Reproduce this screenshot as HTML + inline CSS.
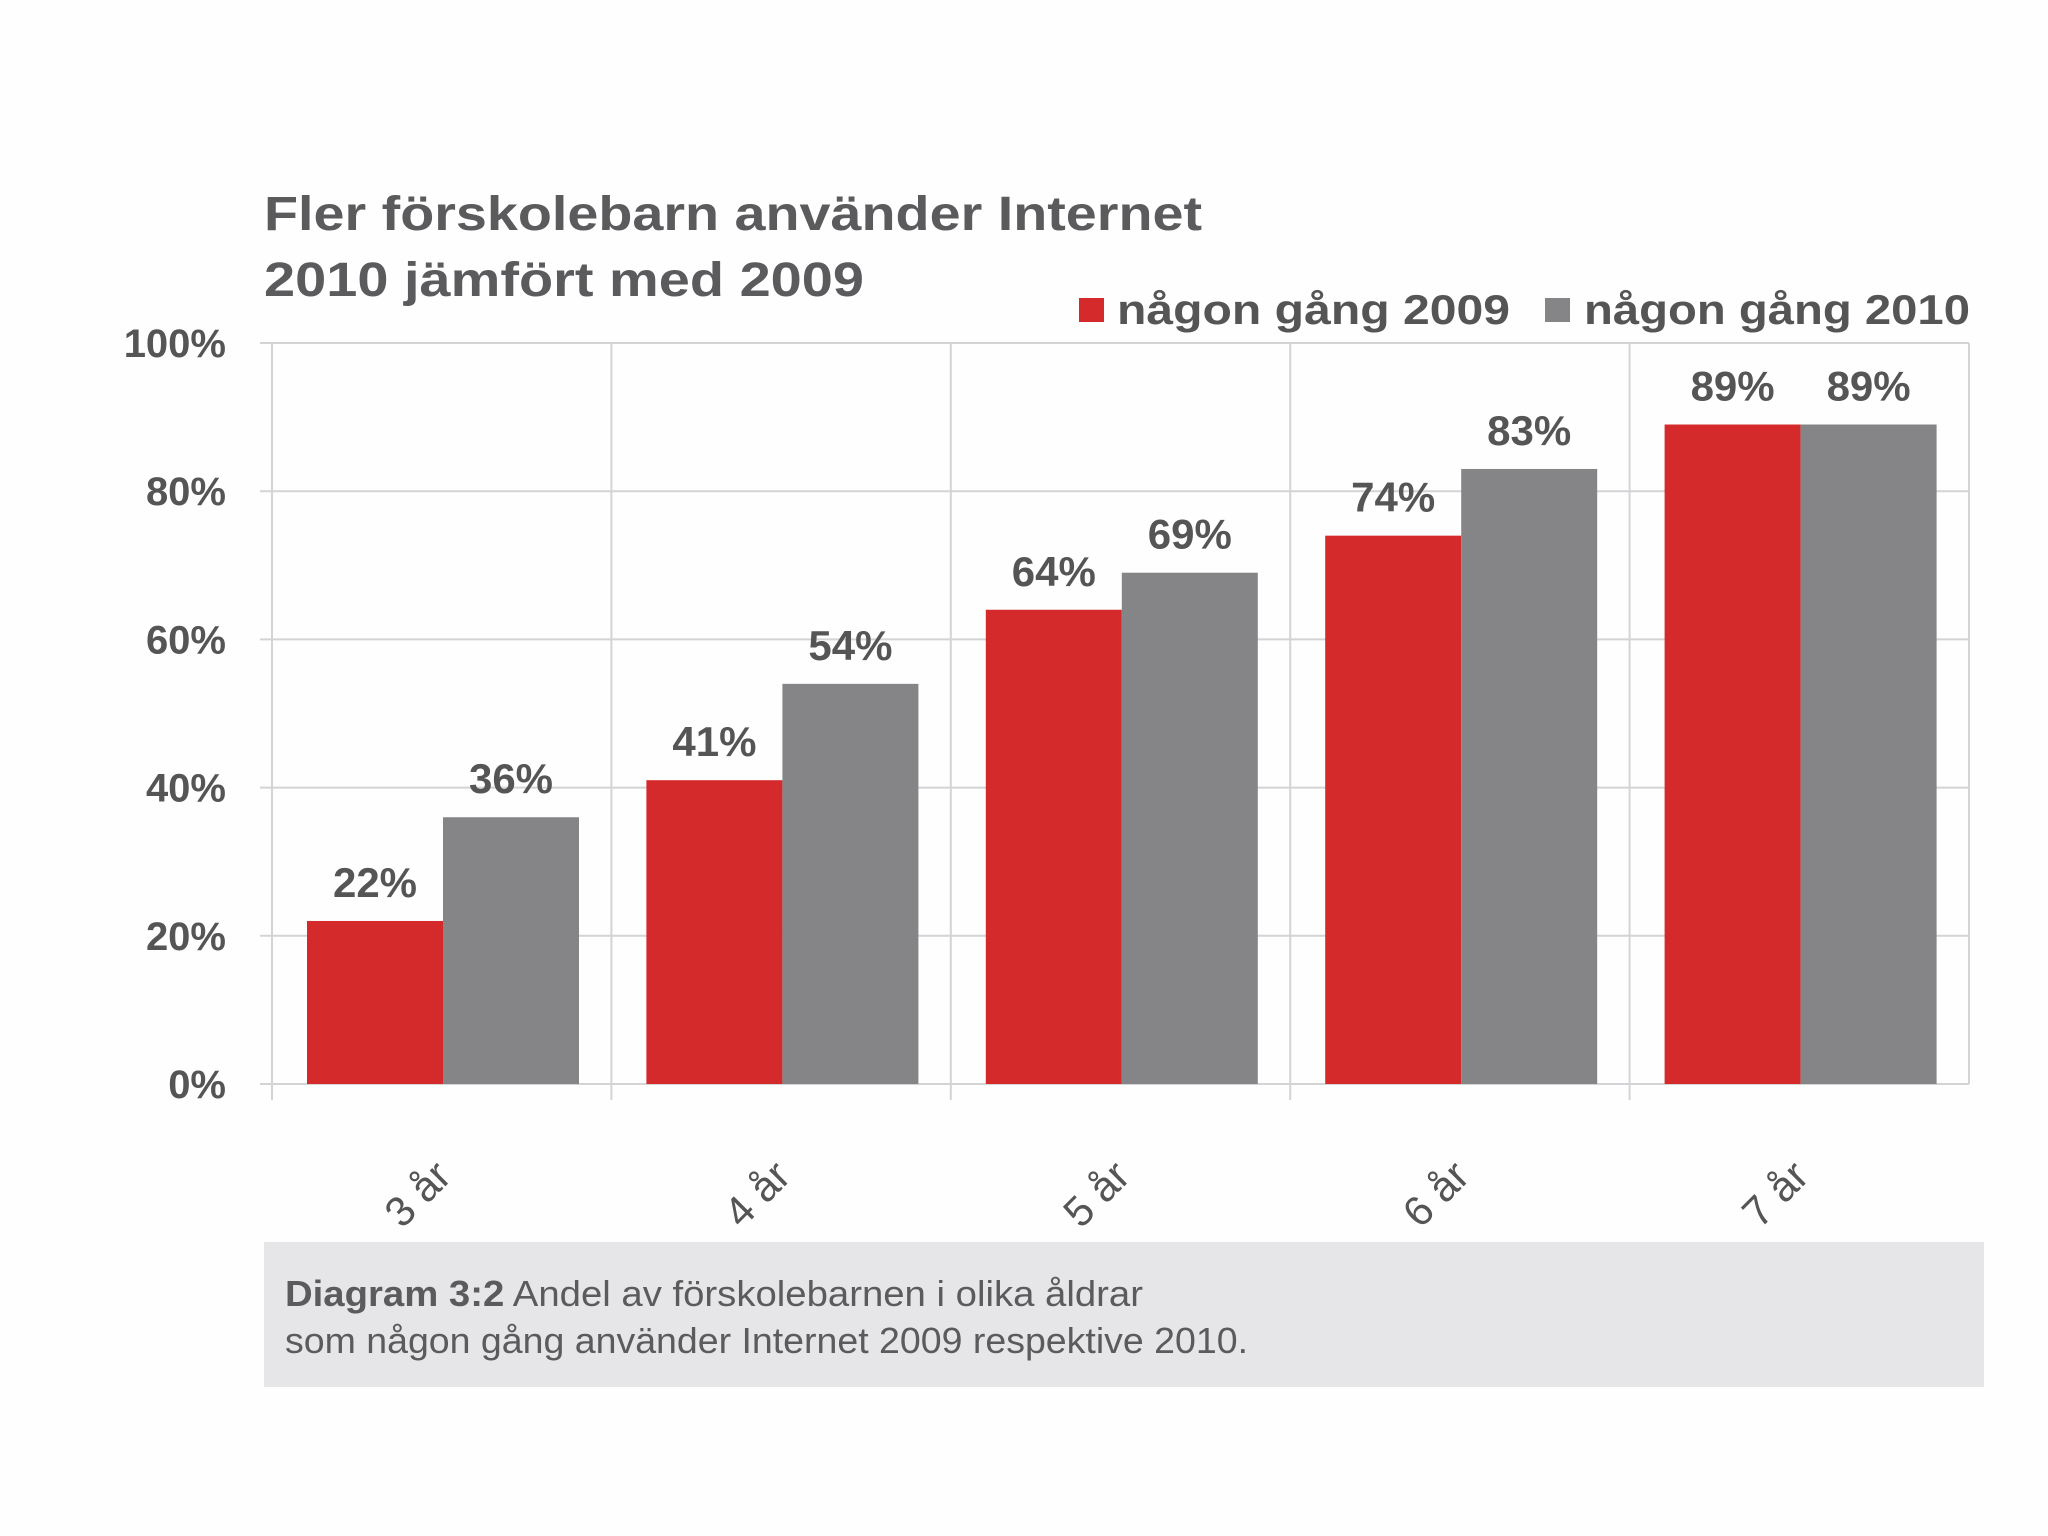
<!DOCTYPE html>
<html><head><meta charset="utf-8"><style>
html,body{margin:0;padding:0;background:#fff;}
svg{display:block;font-family:"Liberation Sans",Arial,sans-serif;}
</style></head><body>
<svg id="chart" width="2048" height="1536" viewBox="0 0 2048 1536" xmlns="http://www.w3.org/2000/svg">
<rect x="0" y="0" width="2048" height="1536" fill="#fefefe"/>
<g fill="#5b5a5c" font-weight="bold" font-size="48">
<text x="264" y="230" textLength="938" lengthAdjust="spacingAndGlyphs">Fler förskolebarn använder Internet</text>
<text x="264" y="296" textLength="600" lengthAdjust="spacingAndGlyphs">2010 jämfört med 2009</text>
</g>
<g font-weight="bold" font-size="42" fill="#555556">
<rect x="1079" y="298" width="25" height="24" fill="#d42a2b"/>
<text x="1117" y="324" textLength="393" lengthAdjust="spacingAndGlyphs">någon gång 2009</text>
<rect x="1545" y="298" width="25" height="24" fill="#858486"/>
<text x="1584" y="324" textLength="386" lengthAdjust="spacingAndGlyphs">någon gång 2010</text>
</g>
<g id="grid"></g>
<g id="bars"></g>
<g id="labels"></g>
<rect x="264" y="1242" width="1720" height="145" fill="#e6e5e7"/>
<g font-size="36" fill="#5b5a5c">
<text x="285" y="1306" textLength="858" lengthAdjust="spacingAndGlyphs"><tspan font-weight="bold">Diagram 3:2</tspan> Andel av förskolebarnen i olika åldrar</text>
<text x="285" y="1353" textLength="963" lengthAdjust="spacingAndGlyphs">som någon gång använder Internet 2009 respektive 2010.</text>
</g>
</svg>
<script>
const categories = ["3 år","4 år","5 år","6 år","7 år"];
const values2009 = [22,41,64,74,89];
const values2010 = [36,54,69,83,89];
const yTicks = [0,20,40,60,80,100];

const NS="http://www.w3.org/2000/svg";
const plotL=272, plotR=1969, plotT=343, plotB=1084;
const catW=(plotR-plotL)/categories.length;
const barW=136, barOff=35;
function y(v){return plotB-(v/100)*(plotB-plotT);}
function x(i){return plotL+i*catW;}
function mk(tag,attrs,parent){const e=document.createElementNS(NS,tag);for(const k in attrs)e.setAttribute(k,attrs[k]);parent.appendChild(e);return e;}
const grid=document.getElementById('grid'),bars=document.getElementById('bars'),labels=document.getElementById('labels');

yTicks.forEach(t=>{
  const l=mk('line',{x1:plotL-12,x2:plotR,y1:y(t),y2:y(t),stroke:'#d4d3d5','stroke-width':2},grid);
  
  
  const tx=mk('text',{x:226,y:y(t)+14,'text-anchor':'end','font-size':40,'font-weight':'bold',fill:'#555556'},labels);
  tx.textContent=t+'%';
  
  
});
for(let i=0;i<=categories.length;i++){
  const l=mk('line',{x1:x(i),x2:x(i),y1:plotT,y2:plotB+(i<categories.length?16:0),stroke:'#d4d3d5','stroke-width':2},grid);
  
  
}
categories.forEach((c,i)=>{
  const x0=x(i)+barOff;
  [[values2009[i],'#d42a2b','2009'],[values2010[i],'#858486','2010']].forEach(([v,col,s],j)=>{
    const bx=x0+j*barW;
    const r=mk('rect',{x:bx,y:y(v),width:barW,height:plotB-y(v),fill:col},bars);
    
    
    const t=mk('text',{x:bx+barW/2,y:y(v)-24,'text-anchor':'middle','font-size':42,'font-weight':'bold',fill:'#555556'},labels);
    t.textContent=v+'%';
    
    
  });
  const cx=x(i)+catW/2-14, cy=1204;
  const t=mk('text',{x:cx,y:cy,'text-anchor':'middle','font-size':42,fill:'#555556',transform:'rotate(-45 '+cx+' '+cy+')'},labels);
  t.textContent=c;
  
  
});
</script>
</body></html>
